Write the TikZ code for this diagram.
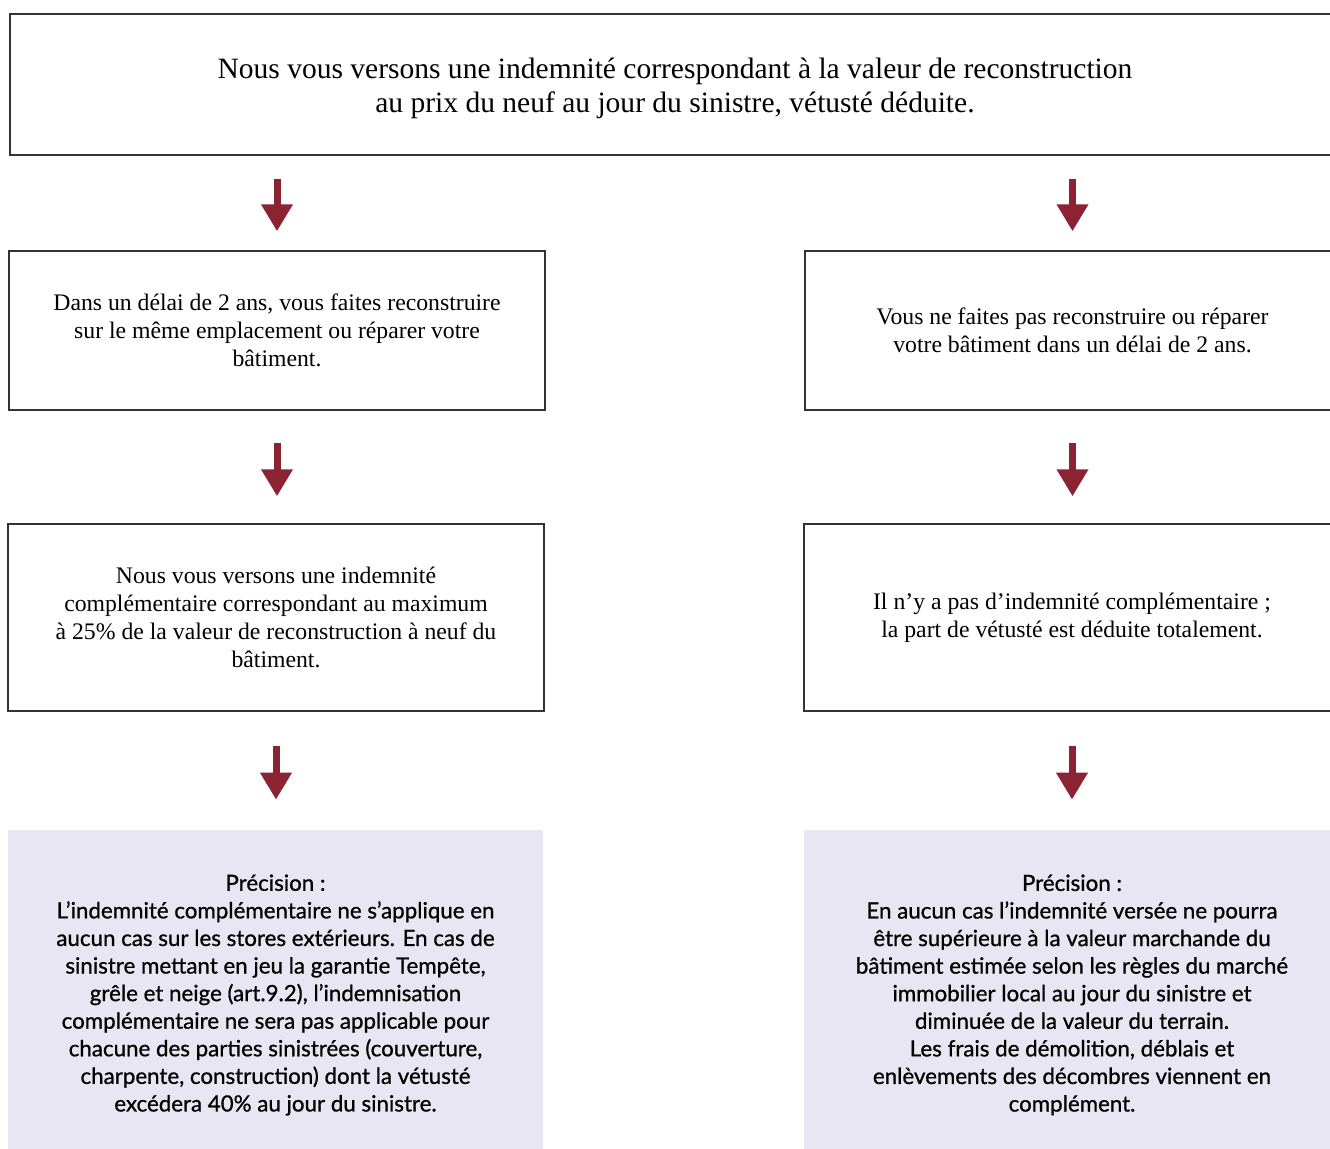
\documentclass[tikz,border=0pt]{standalone}
\usepackage{fontspec}
\setmainfont{Liberation Serif}
\newfontfamily\precfont[BoldFont=Lato, BoldFeatures={FakeBold=0.8}]{Lato}
\usepackage{tikz}
\usetikzlibrary{arrows.meta}

\definecolor{flecherouge}{RGB}{139,35,50}
\definecolor{fondprecision}{RGB}{233,230,244}

\begin{document}
\begin{tikzpicture}[x=0.02cm,y=-0.02cm,
  cadre/.style={draw=black!80, line width=0.8pt, align=center, inner sep=0pt,
    font=\fontsize{13.5}{15.9}\selectfont},
  precision/.style={fill=fondprecision, align=center, inner sep=0pt,
    font=\precfont\bfseries\fontsize{12.7}{15.7}\selectfont},
  fleche/.style={draw=flecherouge, line width=0.14cm,
    -{Triangle[width=0.6cm,length=0.54cm]}}]

\useasboundingbox (0,0) rectangle (1330,1149);
\clip (0,0) rectangle (1330,1149);

% boite du haut
\node[cadre, minimum width=26.6cm, minimum height=2.82cm, text depth=0.06cm,
  font=\fontsize{16.8}{19.4}\selectfont] (indemnite) at (675,84.5)
  {\raisebox{-0.09cm}{Nous vous versons une indemnité correspondant à la valeur de reconstruction}\\
   \raisebox{-0.09cm}{au prix du neuf au jour du sinistre, vétusté déduite.}};

% colonne gauche
\node[cadre, minimum width=10.72cm, minimum height=3.18cm] (reconstruit) at (277,330.5)
  {Dans un délai de 2 ans, vous faites reconstruire\\
   sur le même emplacement ou réparer votre\\ bâtiment.};
\node[cadre, minimum width=10.72cm, minimum height=3.74cm] (complement) at (276,617.5)
  {Nous vous versons une indemnité\\
   complémentaire correspondant au maximum\\
   à 25\% de la valeur de reconstruction à neuf du\\ bâtiment.};
\node[precision, minimum width=10.7cm, minimum height=6.6cm] (precisiongauche) at (275.5,995)
  {Précision :\\
   L’indemnité complémentaire ne s’applique en\\
   aucun cas sur les stores extérieurs. En cas de\\
   sinistre mettant en jeu la garantie Tempête,\\
   grêle et neige (art.9.2), l’indemnisation\\
   complémentaire ne sera pas applicable pour\\
   chacune des parties sinistrées (couverture,\\
   charpente, construction) dont la vétusté\\
   excédera 40\% au jour du sinistre.};

% colonne droite
\node[cadre, minimum width=10.7cm, minimum height=3.18cm] (pasreconstruit) at (1072.5,330.5)
  {Vous ne faites pas reconstruire ou réparer\\
   votre bâtiment dans un délai de 2 ans.};
\node[cadre, minimum width=10.72cm, minimum height=3.74cm] (pascomplement) at (1072,617.5)
  {Il n’y a pas d’indemnité complémentaire~;\\
   la part de vétusté est déduite totalement.};
\node[precision, minimum width=10.72cm, minimum height=6.6cm] (precisiondroite) at (1072,995)
  {Précision :\\
   En aucun cas l’indemnité versée ne pourra\\
   être supérieure à la valeur marchande du\\
   bâtiment estimée selon les règles du marché\\
   immobilier local au jour du sinistre et\\
   diminuée de la valeur du terrain.\\
   Les frais de démolition, déblais et\\
   enlèvements des décombres viennent en\\
   complément.};

% fleches
\draw[fleche, shorten <=0.46cm, shorten >=0.38cm] (reconstruit.north |- indemnite.south) -- (reconstruit.north);
\draw[fleche, shorten <=0.46cm, shorten >=0.38cm] (pasreconstruit.north |- indemnite.south) -- (pasreconstruit.north);
\draw[fleche, shorten <=0.64cm, shorten >=0.54cm] (reconstruit.south) -- (reconstruit.south |- complement.north);
\draw[fleche, shorten <=0.64cm, shorten >=0.54cm] (pasreconstruit.south) -- (pasreconstruit.south |- pascomplement.north);
\draw[fleche, shorten <=0.68cm, shorten >=0.6cm] (complement.south) -- (complement.south |- precisiongauche.north);
\draw[fleche, shorten <=0.68cm, shorten >=0.6cm] (pascomplement.south) -- (pascomplement.south |- precisiondroite.north);

\end{tikzpicture}
\end{document}
